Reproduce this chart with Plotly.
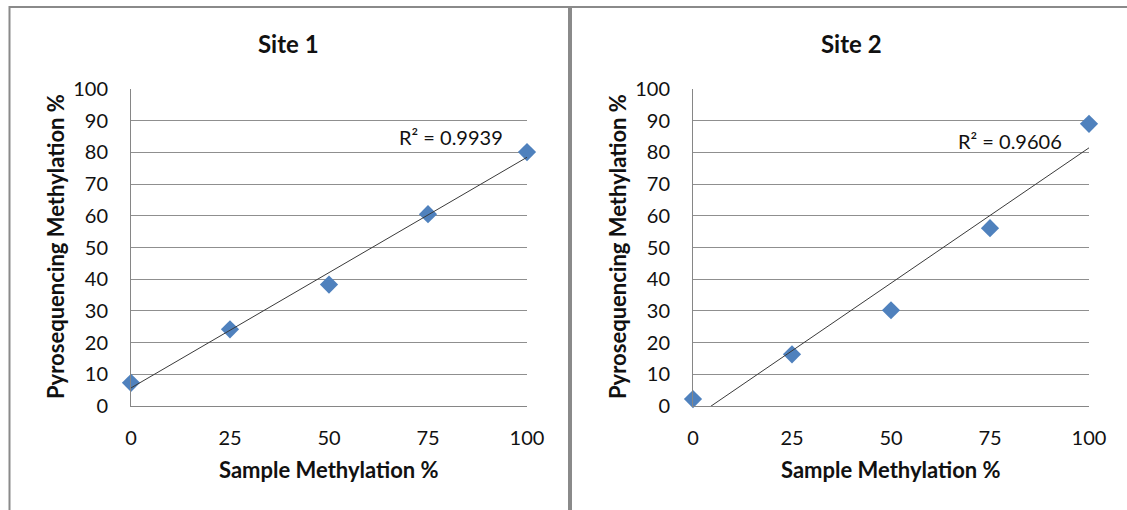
import numpy as np
import plotly.graph_objects as go

W, H = 1127, 510

# ---- data ----
sample_pct = [0, 25, 50, 75, 100]
site1_pyro = [7.3, 24.2, 38.3, 60.5, 80.1]
site2_pyro = [2.2, 16.3, 30.2, 56.1, 89.0]
site_titles = ["Site 1", "Site 2"]
r2_labels = ["R² = 0.9939", "R² = 0.9606"]
x_ticks = [0, 25, 50, 75, 100]
y_ticks = list(range(0, 101, 10))
x_title = "Sample Methylation %"
y_title = "Pyrosequencing Methylation %"

FONT = "Lato"
MARKER_COLOR = "#4F81BD"
GRID = "#8f8f8f"
AXIS = "#868686"
TEXT = "#111111"
BORDER = "#8a8a8a"


def fx(p):
    return p / W


def fy(p):
    return 1 - p / H


# plot-area pixel boxes
plot_left = [131, 693]
plot_right = [527, 1089]
plot_top, plot_bottom = 89, 406

fig = go.Figure()

series = [site1_pyro, site2_pyro]
for i, vals in enumerate(series):
    xa = "x" if i == 0 else "x2"
    ya = "y" if i == 0 else "y2"
    fig.add_trace(go.Scatter(
        x=sample_pct, y=vals, mode="markers", xaxis=xa, yaxis=ya,
        marker=dict(symbol="diamond", size=14, color=MARKER_COLOR,
                    line=dict(width=0)),
        cliponaxis=False, showlegend=False, hoverinfo="x+y"))
    slope, intercept = np.polyfit(sample_pct, vals, 1)
    xs = np.array([min(sample_pct), max(sample_pct)], dtype=float)
    fig.add_trace(go.Scatter(
        x=xs, y=slope * xs + intercept, mode="lines", xaxis=xa, yaxis=ya,
        line=dict(color="#3a3a3a", width=1), showlegend=False,
        hoverinfo="skip"))

axis_common = dict(
    range=[0, 100], showline=True, linecolor=AXIS, linewidth=1,
    ticks="", zeroline=False, automargin=False, fixedrange=True,
    tickfont=dict(family=FONT, size=20, color=TEXT),
)

layout = dict(
    width=W, height=H, autosize=False,
    margin=dict(l=0, r=0, t=0, b=0),
    paper_bgcolor="white", plot_bgcolor="white",
    font=dict(family=FONT, color=TEXT),
    showlegend=False,
)
for i in range(2):
    sx = "" if i == 0 else "2"
    layout["xaxis" + sx] = dict(
        axis_common, domain=[fx(plot_left[i]), fx(plot_right[i])],
        tickvals=x_ticks, showgrid=False, anchor="y" + sx,
        ticklabelstandoff=14)
    layout["yaxis" + sx] = dict(
        axis_common, domain=[fy(plot_bottom), fy(plot_top)],
        tickvals=y_ticks, showgrid=True, gridcolor=GRID, gridwidth=1,
        anchor="x" + sx, ticklabelstandoff=18)

fig.update_layout(**layout)

annotations = []
title_cx = [288, 851]
ytitle_cx = [55, 617]
r2_pos = [(451, 137), (1010, 141)]
for i in range(2):
    annotations.append(dict(
        text="<b>%s</b>" % site_titles[i], x=fx(title_cx[i]), y=fy(43),
        xref="paper", yref="paper", showarrow=False,
        xanchor="center", yanchor="middle",
        font=dict(family=FONT, size=24, color=TEXT)))
    annotations.append(dict(
        text="<b>%s</b>" % y_title, x=fx(ytitle_cx[i]), y=fy(247),
        xref="paper", yref="paper", showarrow=False, textangle=-90,
        xanchor="center", yanchor="middle",
        font=dict(family=FONT, size=22, color=TEXT)))
    annotations.append(dict(
        text="<b>%s</b>" % x_title,
        x=fx((plot_left[i] + plot_right[i]) / 2), y=fy(469),
        xref="paper", yref="paper", showarrow=False,
        xanchor="center", yanchor="middle",
        font=dict(family=FONT, size=22, color=TEXT)))
    annotations.append(dict(
        text=r2_labels[i], x=fx(r2_pos[i][0]), y=fy(r2_pos[i][1]),
        xref="paper", yref="paper", showarrow=False,
        xanchor="center", yanchor="middle",
        font=dict(family=FONT, size=20, color=TEXT)))
fig.update_layout(annotations=annotations)

shapes = [
    dict(type="line", xref="paper", yref="paper",
         x0=fx(9), x1=1, y0=fy(7), y1=fy(7),
         line=dict(color=BORDER, width=2)),
    dict(type="line", xref="paper", yref="paper",
         x0=fx(9.5), x1=fx(9.5), y0=fy(6), y1=0,
         line=dict(color=BORDER, width=2)),
    dict(type="line", xref="paper", yref="paper",
         x0=fx(570), x1=fx(570), y0=fy(6), y1=0,
         line=dict(color=BORDER, width=4)),
]
fig.update_layout(shapes=shapes)

fig.write_html("out.html")
